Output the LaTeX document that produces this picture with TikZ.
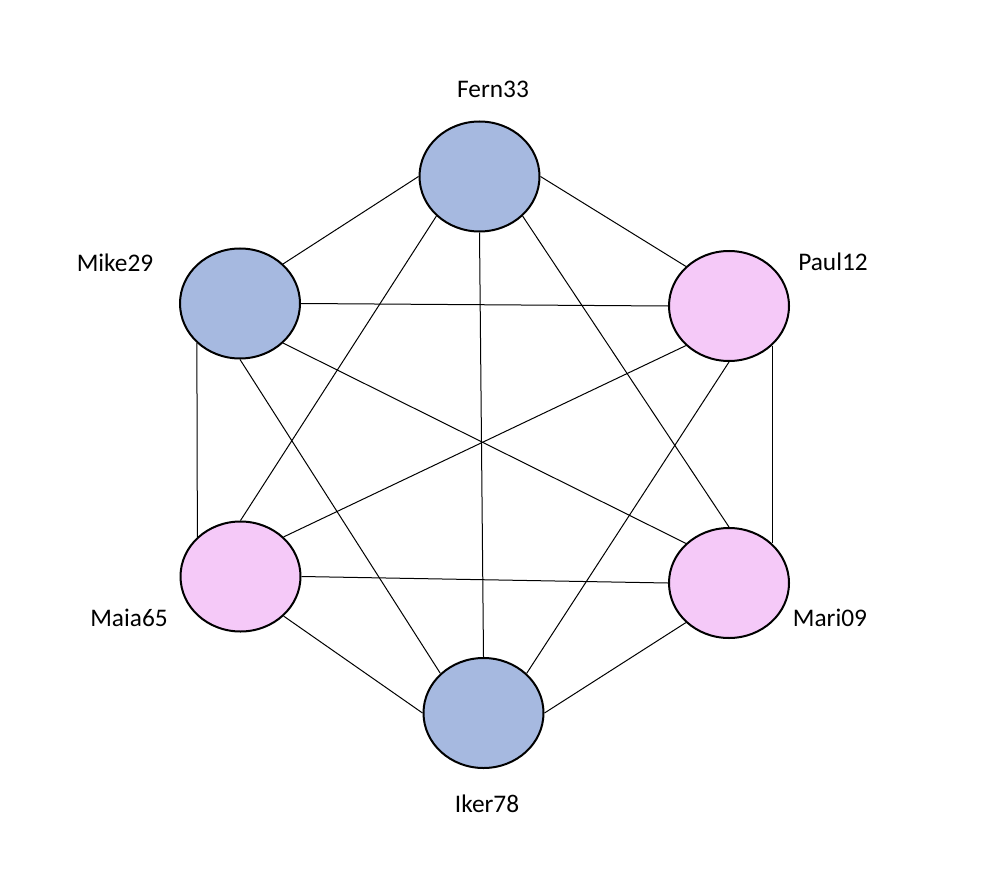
\documentclass[tikz,border=0pt]{standalone}
\usepackage{fontspec}
\setmainfont{Carlito}
\usetikzlibrary{shapes.geometric}

\definecolor{userblue}{RGB}{166,185,224}
\definecolor{userpink}{RGB}{245,201,248}

\begin{document}
\begin{tikzpicture}[x=0.75pt,y=-0.75pt,line width=0.75pt,
                    every node/.style={font=\fontsize{19}{22}\selectfont}]
    \tikzstyle{user}=[ellipse,draw,line width=1.5pt,minimum width=90pt,
                      minimum height=82.5pt,inner sep=0pt]
    \tikzstyle{blue user}=[user,fill=userblue]
    \tikzstyle{pink user}=[user,fill=userpink]

    \useasboundingbox (0,0) rectangle (1002,884);

    \node[blue user] (Fern) at (479.5,176.5) {};
    \node[blue user] (Mike) at (240,303.5)   {};
    \node[pink user] (Paul) at (729,306)     {};
    \node[pink user] (Maia) at (240.5,576.5) {};
    \node[pink user] (Mari) at (729,583)     {};
    \node[blue user] (Iker) at (483.5,713)   {};

    \node (FernName) at (493,89)  {Fern33};
    \node (MikeName) at (115,263) {Mike29};
    \node (PaulName) at (833,262) {Paul12};
    \node (MaiaName) at (129,618) {Maia65};
    \node (MariName) at (830,618) {Mari09};
    \node (IkerName) at (487,804) {Iker78};

    \path (Fern.west)       edge (Mike.north east)
          (Fern.east)       edge (Paul.north west)
          (Fern.south west) edge (Maia.north)
          (Fern.south)      edge (Iker.north)
          (Fern.south east) edge (Mari.north)
          (Mike.east)       edge (Paul.west)
          (Mike.south west) edge (Maia.north west)
          (Mike.south)      edge (Iker.north west)
          (Mike.south east) edge (Mari.north west)
          (Paul.south west) edge (Maia.north east)
          (Paul.south)      edge (Iker.north east)
          (Paul.south east) edge (Mari.north east)
          (Maia.east)       edge (Mari.west)
          (Maia.south east) edge (Iker.west)
          (Mari.south west) edge (Iker.east);
\end{tikzpicture}
\end{document}
